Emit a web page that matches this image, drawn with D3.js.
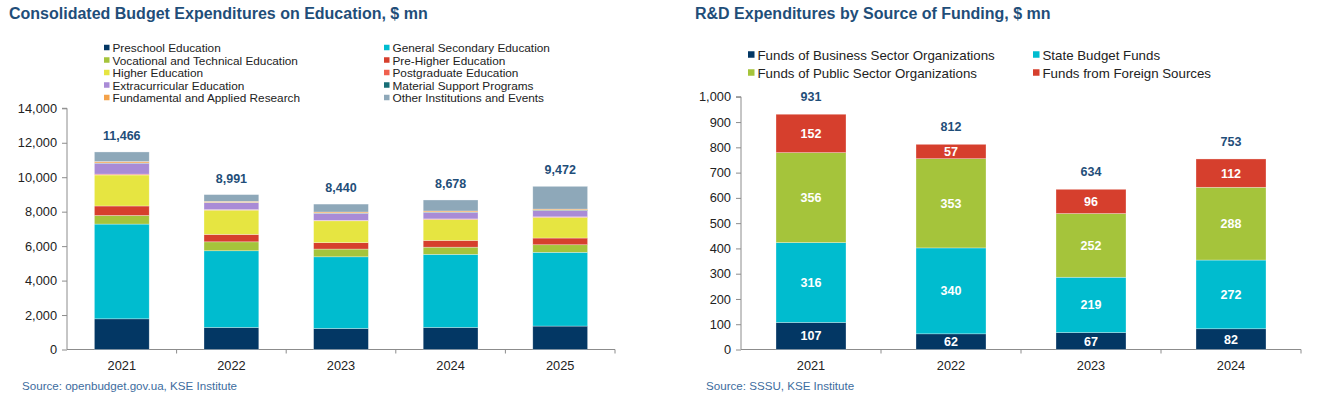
<!DOCTYPE html>
<html>
<head>
<meta charset="utf-8">
<script src="https://cdn.jsdelivr.net/npm/d3@7"></script>
<style>
  body { margin: 0; background: #fff; }
  svg { font-family: "Liberation Sans", Arial, sans-serif; display: block; }
</style>
</head>
<body>
<div id="vis"></div>
<script>
// ---- education chart data ----
const eduYears = ["2021", "2022", "2023", "2024", "2025"];
const eduSeries = [
  "Preschool Education", "General Secondary Education",
  "Vocational and Technical Education", "Pre-Higher Education",
  "Higher Education", "Postgraduate Education",
  "Extracurricular Education", "Material Support Programs",
  "Fundamental and Applied Research", "Other Institutions and Events"
];
const eduColors = ["#033764", "#00bccf", "#a5c43b", "#d63f2d", "#e6e541",
  "#f0604e", "#a98bd6", "#186e76", "#f4a24a", "#8ea8b9"];
const preschool = [1780, 1280, 1220, 1280, 1360];
const generalSecondary = [5500, 4450, 4160, 4240, 4280];
const vocational = [500, 520, 450, 420, 440];
const preHigher = [550, 430, 370, 390, 390];
const higher = [1800, 1410, 1270, 1220, 1200];
const postgraduate = [50, 30, 30, 30, 30];
const extracurricular = [630, 400, 400, 380, 360];
const materialSupport = [20, 20, 20, 20, 30];
const research = [80, 60, 60, 60, 60];
const otherInst = [556, 391, 460, 638, 1322];
const eduTotals = [11466, 8991, 8440, 8678, 9472];
const eduTicks = [0, 2000, 4000, 6000, 8000, 10000, 12000, 14000];

// ---- R&D chart data ----
const rdYears = ["2021", "2022", "2023", "2024"];
const rdSeries = ["Funds of Business Sector Organizations", "State Budget Funds",
  "Funds of Public Sector Organizations", "Funds from Foreign Sources"];
const rdColors = ["#033764", "#00bccf", "#a5c43b", "#d63f2d"];
const business = [107, 62, 67, 82];
const stateBudget = [316, 340, 219, 272];
const publicSector = [356, 353, 252, 288];
const foreign = [152, 57, 96, 112];
const rdTotals = [931, 812, 634, 753];
const rdTicks = [0, 100, 200, 300, 400, 500, 600, 700, 800, 900, 1000];

const titleColor = "#1f4e79";
const fmt = d3.format(",");

const svg = d3.select("#vis").append("svg")
  .attr("width", 1317).attr("height", 394);

function stackedChart(g, opt) {
  const x = d3.scaleBand().domain(opt.years).range([opt.x0, opt.x1]).paddingInner(0.5).paddingOuter(0.25);
  const y = d3.scaleLinear().domain([0, opt.max]).range([opt.y0, opt.y1]);

  const rows = opt.years.map((yr, i) => {
    const r = { year: yr };
    opt.series.forEach((s, k) => r[s] = opt.values[k][i]);
    return r;
  });
  const stacked = d3.stack().keys(opt.series)(rows);

  // y axis
  const yAxis = g.append("g")
    .attr("transform", `translate(${opt.x0},0)`)
    .call(d3.axisLeft(y).tickValues(opt.ticks).tickFormat(fmt).tickSize(5).tickPadding(5));
  yAxis.selectAll("text").attr("font-size", opt.tickFont).attr("fill", "#222");
  yAxis.selectAll("line, path").attr("stroke", "#8c8c8c");
  yAxis.select(".domain").attr("d", `M-5,${y(opt.max)}H0V${opt.y0}`);

  // x axis, ticks sit between categories
  const xAxis = g.append("g").attr("transform", `translate(0,${opt.y0})`);
  xAxis.append("line").attr("x1", opt.x0).attr("x2", opt.x1).attr("stroke", "#8c8c8c");
  const step = (opt.x1 - opt.x0) / opt.years.length;
  xAxis.selectAll(".sep").data(d3.range(1, opt.years.length + 1)).enter()
    .append("line")
    .attr("x1", i => opt.x0 + i * step).attr("x2", i => opt.x0 + i * step)
    .attr("y1", 0).attr("y2", 4).attr("stroke", "#8c8c8c");
  xAxis.selectAll(".lbl").data(opt.years).enter()
    .append("text")
    .attr("x", d => x(d) + x.bandwidth() / 2)
    .attr("y", 20)
    .attr("text-anchor", "middle")
    .attr("font-size", opt.tickFont)
    .attr("fill", "#222")
    .text(d => d);

  // bars
  g.selectAll(".layer").data(stacked).enter()
    .append("g")
    .attr("fill", (d, i) => opt.colors[i])
    .selectAll("rect").data(d => d).enter()
    .append("rect")
    .attr("x", d => x(d.data.year))
    .attr("width", x.bandwidth())
    .attr("y", d => y(d[1]))
    .attr("height", d => y(d[0]) - y(d[1]))
    .attr("stroke", "#ffffff")
    .attr("stroke-opacity", 0.5)
    .attr("stroke-width", 0.6);

  // segment labels
  if (opt.segLabels) {
    stacked.forEach(layer => {
      g.selectAll(null).data(layer).enter()
        .append("text")
        .attr("x", d => x(d.data.year) + x.bandwidth() / 2)
        .attr("y", d => (y(d[0]) + y(d[1])) / 2 + 4.5)
        .attr("text-anchor", "middle")
        .attr("font-size", 12.5)
        .attr("font-weight", "bold")
        .attr("fill", "#fff")
        .text(d => d[1] - d[0]);
    });
  }

  // totals
  g.selectAll(".total").data(opt.years).enter()
    .append("text")
    .attr("x", d => x(d) + x.bandwidth() / 2)
    .attr("y", (d, i) => y(d3.sum(opt.values, v => v[i])) - opt.totalGap)
    .attr("text-anchor", "middle")
    .attr("font-size", 12.5)
    .attr("font-weight", "bold")
    .attr("fill", titleColor)
    .text((d, i) => fmt(opt.totals[i]));
}

function legend(g, names, colors, o) {
  const items = g.append("g").selectAll("g").data(names).enter()
    .append("g")
    .attr("transform", (d, i) => `translate(${i % 2 ? o.col2 : o.col1},${o.top + Math.floor(i / 2) * o.row})`);
  items.append("rect").attr("x", 0).attr("y", -o.sq / 2 - 0.5).attr("width", o.sq).attr("height", o.sq)
    .attr("fill", (d, i) => colors[i]);
  items.append("text").attr("x", o.sq + 3).attr("y", o.font * 0.36)
    .attr("font-size", o.font).attr("fill", "#222").text(d => d);
}

// ---- left: education ----
const left = svg.append("g");
left.append("text").attr("x", 9).attr("y", 19)
  .attr("font-size", 16).attr("font-weight", "bold").attr("fill", titleColor)
  .text("Consolidated Budget Expenditures on Education, $ mn");

legend(left, eduSeries, eduColors, { col1: 104, col2: 384, top: 48, row: 12.5, sq: 5.5, font: 11.8 });

stackedChart(left, {
  years: eduYears, series: eduSeries, colors: eduColors,
  values: [preschool, generalSecondary, vocational, preHigher, higher, postgraduate,
    extracurricular, materialSupport, research, otherInst],
  totals: eduTotals, ticks: eduTicks, max: 14000,
  x0: 67, x1: 615, y0: 349.5, y1: 108.3, tickFont: 12.8, totalGap: 12, segLabels: false
});

left.append("text").attr("x", 22).attr("y", 390)
  .attr("font-size", 11.6).attr("fill", "#3d6c9e")
  .text("Source: openbudget.gov.ua, KSE Institute");

// ---- right: R&D ----
const right = svg.append("g");
right.append("text").attr("x", 695).attr("y", 19)
  .attr("font-size", 16).attr("font-weight", "bold").attr("fill", titleColor)
  .text("R&D Expenditures by Source of Funding, $ mn");

legend(right, rdSeries, rdColors, { col1: 748, col2: 1033, top: 55, row: 18, sq: 6.5, font: 13.3 });

stackedChart(right, {
  years: rdYears, series: rdSeries, colors: rdColors,
  values: [business, stateBudget, publicSector, foreign],
  totals: rdTotals, ticks: rdTicks, max: 1000,
  x0: 741, x1: 1301, y0: 349.5, y1: 96.8, tickFont: 12.8, totalGap: 13, segLabels: true
});

right.append("text").attr("x", 706).attr("y", 390)
  .attr("font-size", 11.6).attr("fill", "#3d6c9e")
  .text("Source: SSSU, KSE Institute");
</script>
</body>
</html>
